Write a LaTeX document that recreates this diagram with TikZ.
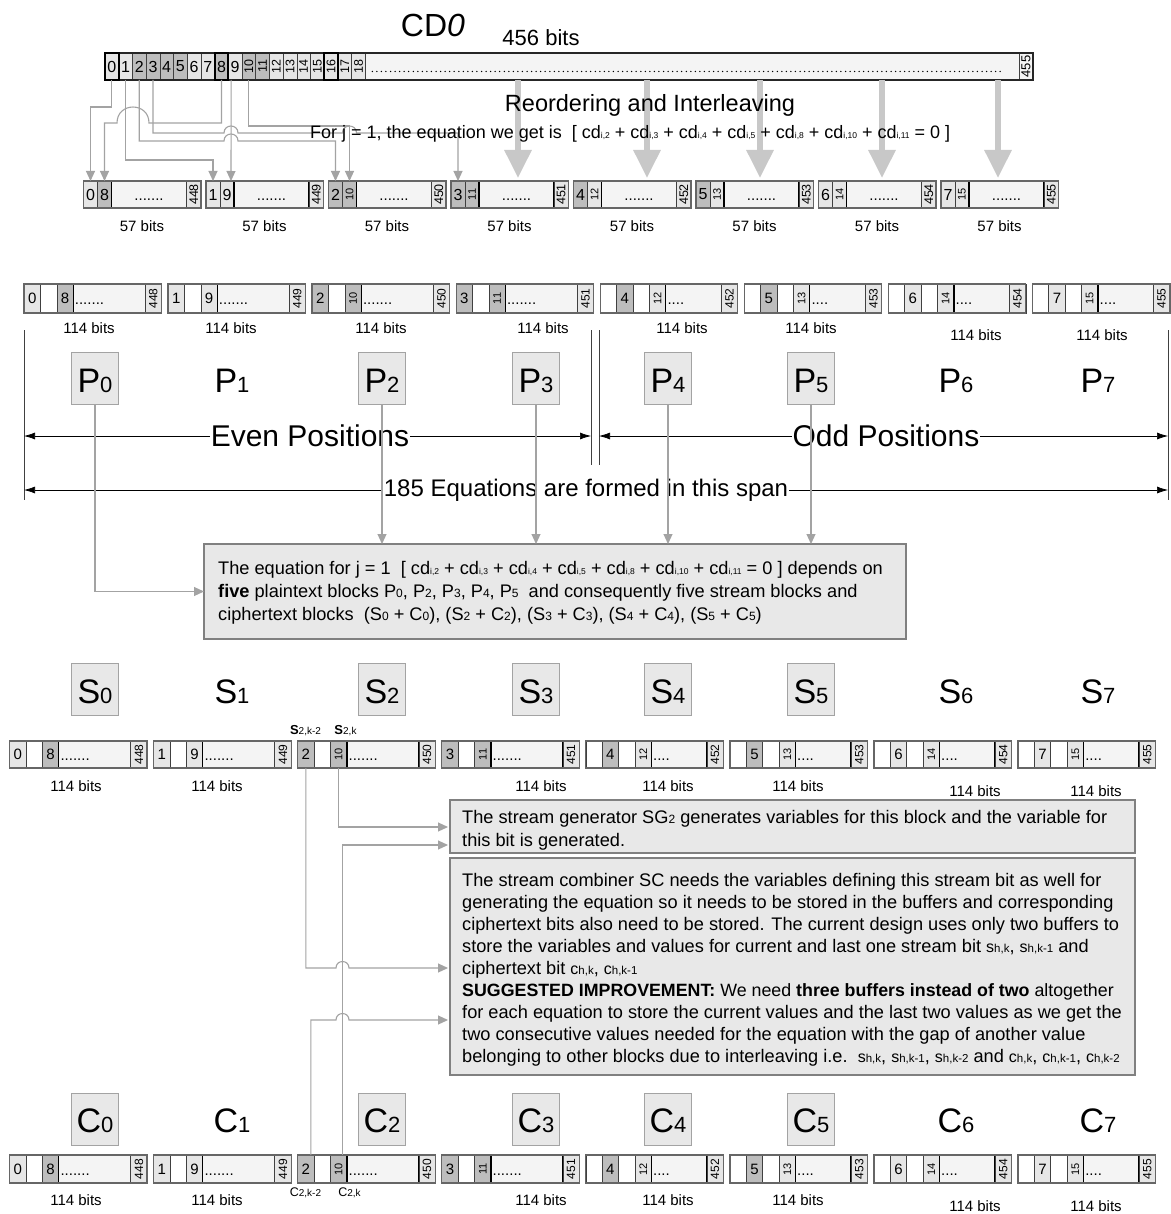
\documentclass[tikz,border=0pt]{standalone}
\usepackage{fontspec}
\setmainfont{Liberation Sans}
\usetikzlibrary{arrows.meta,calc}
\definecolor{lg}{HTML}{E6E6E6}
\definecolor{dg}{HTML}{BDBDBD}
\definecolor{pg}{HTML}{F4F4F4}
\definecolor{cg}{HTML}{A3A3A3}
\definecolor{bxf}{HTML}{E8E8E8}
\definecolor{bxd}{HTML}{808080}
\definecolor{ag}{HTML}{C8C8C8}
\newcommand\fs[1]{\fontsize{#1}{#1}\selectfont}
\newcommand\hopat[3]{-- ({#1-#3},#2) .. controls ({#1-#3},{#2-1.33*#3}) and ({#1+#3},{#2-1.33*#3}) .. ({#1+#3},#2)}
\newcommand\cdsub[1]{cd{\fs{8.5}i,#1}}
\newcommand\nsub[2]{#1{\fs{12}#2}}
\newcommand\svar[1]{{\fs{16}s}{\fs{11.5}#1}}
\newcommand\cvar[1]{{\fs{16}c}{\fs{11.5}#1}}
\tikzset{
  cellnode/.style={draw=black!75, line width=0.6pt, inner sep=0pt, outer sep=0pt, anchor=north west},
  conn/.style={draw=cg, line width=1.1pt, -{Triangle[width=9pt,length=10pt]}},
  bigarr/.style={draw=ag, line width=6pt, -{Triangle[width=26pt,length=28pt]}},
  dimarr/.style={draw=black, line width=0.7pt, {Latex[length=11pt,width=7pt]}-{Latex[length=11pt,width=7pt]}},
  tbox/.style={draw=bxd, line width=1.6pt, fill=bxf, inner sep=0pt, outer sep=0pt, anchor=north west},
  lblbox/.style={draw=cg, line width=1pt, fill=bxf, minimum width=47pt, minimum height=52pt, inner sep=0pt},
  bits/.style={font=\fs{15}, inner sep=0pt},
  sep/.style={draw=black!75, line width=0.8pt},
  btxt/.style={font=\fs{18.2}, inner sep=0pt, anchor=base west},
  etxt/.style={font=\fs{18.2}, inner sep=0pt, anchor=base west},
}
\newcommand\longrow[4]{%
\foreach \b/\ca/\cb in {0/lg/dg,1/lg/lg,2/dg/dg,3/dg/dg,4/dg/lg,5/dg/lg,6/lg/lg,7/lg/lg}{%
  \pgfmathsetmacro\bx{#2+144.05*\b}%
  \pgfmathtruncatemacro\nb{\b+8}%
  \pgfmathtruncatemacro\nl{\b+448}%
  \ifnum\b<4
    \coordinate (#1\b-s) at (\bx,#3);
    \def\dw{71.9}\def\dt{.......}%
  \else
    \node[cellnode, fill=white, minimum width=16.4pt, minimum height=#4pt] (#1\b-w0) at (\bx,#3) {};
    \coordinate (#1\b-s) at (#1\b-w0.north east);
    \def\dw{55.5}\def\dt{....}%
  \fi
  \node[cellnode, fill=\ca, minimum width=16.4pt, minimum height=#4pt] (#1\b-a) at (#1\b-s) {};
  \node[cellnode, fill=white, minimum width=16.4pt, minimum height=#4pt] (#1\b-w) at (#1\b-a.north east) {};
  \node[cellnode, fill=\cb, minimum width=16.4pt, minimum height=#4pt] (#1\b-c) at (#1\b-w.north east) {};
  \node[cellnode, fill=pg, draw=black, line width=1.2pt, minimum width=\dw pt, minimum height=#4pt] (#1\b-d) at (#1\b-c.north east) {};
  \node[cellnode, fill=lg, minimum width=16.4pt, minimum height=#4pt] (#1\b-e) at (#1\b-d.north east) {};
  \draw[black!60, line width=1.3pt] (#1\b-s -| \bx,0) rectangle (#1\b-e.south east);
  \node[font=\fs{15}, inner sep=0pt] (#1\b-al) at (#1\b-a.center) {\b};
  \ifnum\nb<10
    \node[font=\fs{15}, inner sep=0pt] (#1\b-cl) at (#1\b-c.center) {\nb};
  \else
    \node[font=\fs{11}, inner sep=0pt, rotate=90] (#1\b-cl) at (#1\b-c.center) {\nb};
  \fi
  \node[font=\fs{12}, inner sep=0pt, rotate=90] (#1\b-el) at (#1\b-e.center) {\nl};
  \node[font=\fs{15}, inner sep=0pt, anchor=base west] (#1\b-dl) at ([xshift=1.5pt,yshift=-6pt]#1\b-d.west) {\dt};
}}
\begin{document}
\begin{tikzpicture}[x=1pt,y=-1pt]
\useasboundingbox[fill=white] (0,0) rectangle (1170,1214);

% ---------- top bar CD0 ----------
\node[font=\fs{32}, inner sep=0pt, anchor=base] (cd) at (433,36.5) {CD\textit{0}};
\node[font=\fs{22}, inner sep=0pt, anchor=base] (n456) at (541,45.5) {456 bits};
\foreach \i/\c in {0/lg,1/lg,2/dg,3/dg,4/dg,5/dg,6/lg,7/lg,8/dg,9/lg,10/dg,11/dg,12/lg,13/lg,14/lg,15/lg,16/lg,17/lg,18/lg}{
  \node[cellnode, fill=\c, minimum width=13.7pt, minimum height=27pt] (t\i) at ({105+13.7*\i},53) {};
  \ifnum\i<10
    \node[font=\fs{16}, inner sep=0pt] (tl\i) at (t\i.center) {\i};
  \else
    \node[font=\fs{12.5}, inner sep=0pt, rotate=90] (tl\i) at (t\i.center) {\i};
  \fi
}
\node[cellnode, fill=pg, minimum width=653.7pt, minimum height=27pt] (tdots) at (365.3,53) {};
\node[cellnode, fill=pg, minimum width=14pt, minimum height=27pt] (tlast) at (tdots.north east) {};
\node[font=\fs{13}, inner sep=0pt, rotate=90] (tll) at (tlast.center) {455};
\draw[black!85, line width=1.2pt] (t0.north west) rectangle (tlast.south east);
\foreach \i in {0,8,16} \draw[black, line width=2pt] (t\i.north west) rectangle (t\i.south east);
\draw[line width=1.5pt, line cap=round, dash pattern=on 0pt off 4.55pt] ([xshift=7pt,yshift=-5pt]tdots.west) -- ([xshift=-16pt,yshift=-5pt]tdots.east);

% ---------- 57-bit blocks ----------
\foreach \b/\ca/\cb in {0/lg/dg,1/lg/lg,2/dg/dg,3/dg/dg,4/dg/lg,5/dg/lg,6/lg/lg,7/lg/lg}{
  \pgfmathsetmacro\bx{83.5+122.5*\b}
  \pgfmathtruncatemacro\nb{\b+8}
  \pgfmathtruncatemacro\nl{\b+448}
  \node[cellnode, fill=\ca, minimum width=14pt, minimum height=27pt] (m\b-a) at (\bx,181) {};
  \node[cellnode, fill=\cb, minimum width=14pt, minimum height=27pt] (m\b-b) at (m\b-a.north east) {};
  \node[cellnode, fill=pg, draw=black, line width=1.2pt, minimum width=75pt, minimum height=27pt] (m\b-d) at (m\b-b.north east) {};
  \node[cellnode, fill=lg, minimum width=14.5pt, minimum height=27pt] (m\b-e) at (m\b-d.north east) {};
  \draw[black!60, line width=1.3pt] (m\b-a.north west) rectangle (m\b-e.south east);
  \node[font=\fs{16}, inner sep=0pt] (m\b-al) at (m\b-a.center) {\b};
  \ifnum\nb<10
    \node[font=\fs{16}, inner sep=0pt] (m\b-bl) at (m\b-b.center) {\nb};
  \else
    \node[font=\fs{11}, inner sep=0pt, rotate=90] (m\b-bl) at (m\b-b.center) {\nb};
  \fi
  \node[font=\fs{12.5}, inner sep=0pt, rotate=90] (m\b-el) at (m\b-e.center) {\nl};
  \node[font=\fs{15}, inner sep=0pt, anchor=base] (m\b-dl) at ([yshift=-6pt]m\b-d.center) {.......};
  \node[bits] (m\b-bits) at ({\bx+58.5},226) {57 bits};
}

% big grey arrows
\foreach \k/\x in {1/518,2/647,3/760,4/882,5/998}{
  \coordinate (ba\k) at (\x,178);
  \draw[bigarr] (tdots.south -| ba\k) -- (ba\k);
}
\node[font=\fs{23.5}, inner sep=0pt] (reord) at (650,105) {Reordering and Interleaving};

% thin connectors
\draw[conn] (t0.south) -- ++(0,27) -| (m0-a.north);
\draw[conn] (t8.south) -- ++(0,43) -- (149,123) .. controls (149,101.7) and (117,101.7) .. (117,123) -| (m0-b.north);
\draw[conn] (t3.south) -- ++(0,53) \hopat{231}{133}{7} \hopat{349.5}{133}{7} -| (m3-a.north);
\draw[conn] (t2.south) -- ++(0,61) \hopat{231}{141}{7} -| (m2-a.north);
\draw[conn] (t10.south) -- ++(0,46) -| (m2-b.north);
\draw[conn] (t1.south) -- ++(0,80) -| (m1-a.north);
\draw[conn] ([xshift=-4pt]t9.south) -- ([xshift=4pt]m1-b.north);

\node[font=\fs{18}, inner sep=0pt, anchor=base west] (forj) at (310,139) {For j = 1, the equation we get is\ \ [ \cdsub{2} + \cdsub{3} + \cdsub{4} + \cdsub{5} + \cdsub{8} + \cdsub{10} + \cdsub{11} = 0 ]};

% ---------- P row ----------
\longrow{p}{24}{284}{29}
\foreach \k/\x/\y in {0/89/328,1/231/328,2/381/328,3/543/328,4/682/328,5/811/328,6/976/335,7/1102/335}
  \node[bits] (pbits\k) at (\x,\y) {114 bits};

\foreach \r/\y/\by in {P/381/378,S/692/689,C/1121/1119}{
  \foreach \k/\x in {0/95,1/232,2/382,3/536,4/668,5/811,6/956,7/1098}{
    \ifnum\k=1
      \node[inner sep=0pt] (\r\k) at (\x,\y) {\fs{34}\r\fs{22}\k};
    \else\ifnum\k>5
      \node[inner sep=0pt] (\r\k) at (\x,\y) {\fs{34}\r\fs{22}\k};
    \else
      \node[lblbox] (\r\k) at (\x,\by) {};
      \node[inner sep=0pt] (\r\k t) at (\x,\y) {\fs{34}\r\fs{22}\k};
    \fi\fi
  }
}

% separators and span arrows
\coordinate (vl0a) at (24,330); \coordinate (vl0b) at (24,500);
\coordinate (vl1a) at (1168,330); \coordinate (vl1b) at (1168,500);
\coordinate (vm0a) at (591,330); \coordinate (vm0b) at (591,465);
\coordinate (vm1a) at (599,330); \coordinate (vm1b) at (599,465);
\draw[sep] (vl0a) -- (vl0b);
\draw[sep] (vl1a) -- (vl1b);
\draw[sep] (vm0a) -- (vm0b);
\draw[sep] (vm1a) -- (vm1b);
\coordinate (ea) at (24,436); \coordinate (eb) at (591,436);
\coordinate (oa) at (599,436); \coordinate (ob) at (1168,436);
\coordinate (fa) at (24,490); \coordinate (fb) at (1168,490);
\draw[dimarr] (ea) -- (eb);
\draw[dimarr] (oa) -- (ob);
\draw[dimarr] (fa) -- (fb);
\node[font=\fs{30}, fill=white, inner sep=1pt] (even) at (310,436) {Even Positions};
\node[font=\fs{30}, fill=white, inner sep=1pt] (odd) at (886,436) {Odd Positions};
\node[font=\fs{24}, fill=white, inner sep=1pt] (span) at (586,490) {185 Equations are formed in this span};

% ---------- equation box ----------
\node[tbox, minimum width=702pt, minimum height=95pt] (eq) at (204,544) {};
\draw[conn] (P0.south) |- (eq.west);
\foreach \k in {2,3,4,5} \draw[conn] (P\k.south) -- (P\k.south |- eq.north);
\node[etxt] (eq1) at (218,574) {The equation for j = 1\ \ [ \cdsub{2} + \cdsub{3} + \cdsub{4} + \cdsub{5} + \cdsub{8} + \cdsub{10} + \cdsub{11} = 0 ] depends on};
\node[etxt] (eq2) at (218,597) {\textbf{five} plaintext blocks \nsub{P}{0}, \nsub{P}{2}, \nsub{P}{3}, \nsub{P}{4}, \nsub{P}{5}\ \ and consequently five stream blocks and};
\node[etxt] (eq3) at (218,620) {ciphertext blocks\ \ (\nsub{S}{0} + \nsub{C}{0}), (\nsub{S}{2} + \nsub{C}{2}), (\nsub{S}{3} + \nsub{C}{3}), (\nsub{S}{4} + \nsub{C}{4}), (\nsub{S}{5} + \nsub{C}{5})};

% ---------- S row ----------
\longrow{s}{9.6}{741}{27}
\foreach \k/\x/\y in {0/76/786,1/217/786,3/541/786,4/668/786,5/798/786,6/975/791,7/1096/791}
  \node[bits] (sbits\k) at (\x,\y) {114 bits};
\node[inner sep=0pt] (sk2) at (305.5,731) {{\fs{13}\textbf{S}}{\fs{10}2,k-2}};
\node[inner sep=0pt] (sk0) at (345.5,731) {{\fs{13}\textbf{S}}{\fs{10}2,k}};

% ---------- C row ----------
\longrow{c}{9.6}{1155}{28}
\foreach \k/\x/\y in {0/76/1200,1/217/1200,3/541/1200,4/668/1200,5/798/1200,6/975/1206,7/1096/1206}
  \node[bits] (cbits\k) at (\x,\y) {114 bits};
\node[inner sep=0pt] (ck2) at (305.5,1193) {{\fs{12.5}C}{\fs{10}2,k-2}};
\node[inner sep=0pt] (ck0) at (349.5,1193) {{\fs{12.5}C}{\fs{10}2,k}};

% ---------- text boxes ----------
\node[tbox, minimum width=685pt, minimum height=53pt] (sg) at (450,800) {};
\node[btxt] (sg1) at (462,823) {The stream generator SG{\fs{12}2} generates variables for this block and the variable for};
\node[btxt] (sg2) at (462,846) {this bit is generated.};

\node[tbox, minimum width=685pt, minimum height=217pt] (sc) at (450,858) {};
\node[btxt] (sc1) at (462,886) {The stream combiner SC needs the variables defining this stream bit as well for};
\node[btxt] (sc2) at (462,908) {generating the equation so it needs to be stored in the buffers and corresponding};
\node[btxt] (sc3) at (462,930) {ciphertext bits also need to be stored. The current design uses only two buffers to};
\node[btxt] (sc4) at (462,952) {store the variables and values for current and last one stream bit \svar{h,k}, \svar{h,k-1} and};
\node[btxt] (sc5) at (462,974) {ciphertext bit \cvar{h,k}, \cvar{h,k-1}};
\node[btxt, font=\fs{17.8}] (sc6) at (462,996) {\textbf{SUGGESTED IMPROVEMENT:} We need \textbf{three buffers instead of two} altogether};
\node[btxt] (sc7) at (462,1018) {for each equation to store the current values and the last two values as we get the};
\node[btxt] (sc8) at (462,1040) {two consecutive values needed for the equation with the gap of another value};
\node[btxt] (sc9) at (462,1062) {belonging to other blocks due to interleaving i.e.\ \ \svar{h,k}, \svar{h,k-1}, \svar{h,k-2} and \cvar{h,k}, \cvar{h,k-1}, \cvar{h,k-2}};

% ---------- lower connectors ----------
\coordinate (e0) at (448,827);
\coordinate (e1) at (448,968);
\coordinate (e2) at (448,845);
\coordinate (e3) at (448,1020);
\draw[conn] (s2-c.south) |- (e0);
\draw[conn] (s2-a.south) -- (s2-a.south |- e1) \hopat{342.5}{968}{6.5} -- (e1);
\draw[conn] ([xshift=3.7pt]c2-c.north) |- (e2);
\draw[conn] ([xshift=5pt]c2-a.north) -- ([xshift=5pt]c2-a.north |- e3) \hopat{342.5}{1020}{6.5} -- (e3);

\end{tikzpicture}
\end{document}
